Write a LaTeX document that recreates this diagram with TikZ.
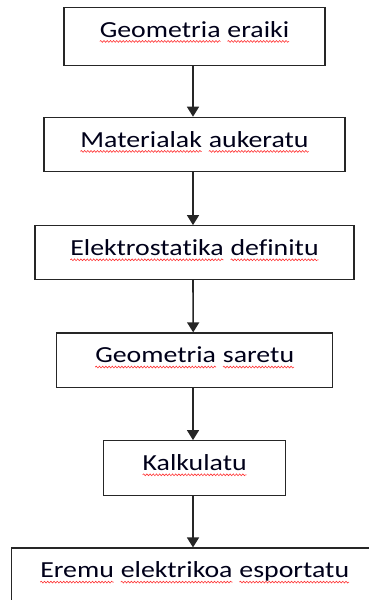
\documentclass[tikz,border=0pt]{standalone}
\usepackage{fontspec}
\setmainfont[FakeStretch=1.21,Ligatures=NoCommon]{Carlito}
\usetikzlibrary{arrows.meta,decorations.pathmorphing}
\newcommand\sqw[1]{\tikz[baseline=(w.base),x=1cm,y=1cm]{\node[inner sep=0pt,outer sep=0pt] (w) {#1};\draw[red!80, line width=0.6pt, decorate, decoration={snake, amplitude=0.9pt, segment length=3.2pt}] ([yshift=-4.2pt]w.base west) -- ([yshift=-4.2pt]w.base east);}}
\begin{document}
\begin{tikzpicture}[x=1pt,y=-1pt,
  box/.style={draw=black!85, line width=1.2pt, inner sep=0pt, rectangle},
  lbl/.style={anchor=base, inner sep=0pt, text=black!90!blue, font=\fontsize{23}{26}\selectfont},
  flow/.style={draw=black!85, line width=1.6pt, -{Triangle[width=12pt,length=10pt]}}]
\useasboundingbox (0,0) rectangle (368,600);
\node[box, minimum width=261pt, minimum height=58pt] (b1) at (194.5,36.3) {};
\node[box, minimum width=301pt, minimum height=54.4pt] (b2) at (194.5,144.5) {};
\node[box, minimum width=319pt, minimum height=53.6pt] (b3) at (194.5,252.5) {};
\node[box, minimum width=276pt, minimum height=54.7pt] (b4) at (194.7,360.3) {};
\node[box, minimum width=182pt, minimum height=54.6pt] (b5) at (194.7,468) {};
\node[box, minimum width=366pt, minimum height=56pt] (b6) at (194.7,576) {};
\node[lbl] (t1) at ([yshift=-30.5pt]b1.north) {\sqw{Geometria} \sqw{eraiki}};
\node[lbl] (t2) at ([yshift=-30.5pt]b2.north) {\sqw{Materialak} \sqw{aukeratu}};
\node[lbl] (t3) at ([yshift=-30.5pt]b3.north) {\sqw{Elektrostatika} \sqw{definitu}};
\node[lbl] (t4) at ([yshift=-30.5pt]b4.north) {\sqw{Geometria} \sqw{saretu}};
\node[lbl] (t5) at ([yshift=-30.5pt]b5.north) {\sqw{Kalkulatu}};
\node[lbl] (t6) at ([yshift=-30.5pt]b6.north) {\sqw{Eremu} \sqw{elektrikoa} \sqw{esportatu}};
\draw[flow] ([xshift=-1.5pt]b1.south) -- ([xshift=-1.5pt]b2.north);
\draw[flow] ([xshift=-1.5pt]b2.south) -- ([xshift=-1.5pt]b3.north);
\draw[flow] ([xshift=-1.5pt]b3.south) -- ([xshift=-1.5pt]b4.north);
\draw[flow] ([xshift=-1.7pt]b4.south) -- ([xshift=-1.7pt]b5.north);
\draw[flow] ([xshift=-1.7pt]b5.south) -- ([xshift=-1.7pt]b6.north);
\end{tikzpicture}
\end{document}
